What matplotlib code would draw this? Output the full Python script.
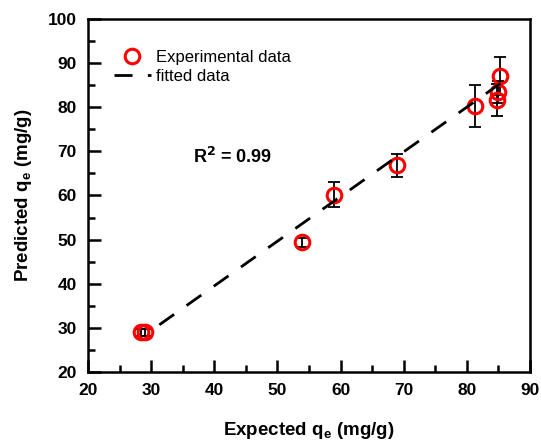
import matplotlib.pyplot as plt
from matplotlib.ticker import MultipleLocator

plt.rcParams['font.family'] = ['Liberation Sans', 'DejaVu Sans']

# expected vs predicted q_e with error bars
q_exp = [28.4, 29.0, 53.9, 59.0, 69.0, 81.3, 84.7, 85.0, 85.3]
q_pred = [29.0, 29.0, 49.4, 60.2, 66.9, 80.3, 81.7, 83.5, 87.0]
q_err = [0.8, 0.8, 1.0, 2.9, 2.6, 4.7, 3.6, 2.5, 4.3]

# linear fit endpoints
fit_x = [31.3, 85.3]
fit_y = [30.7, 85.4]

r2_text = 'R$^\\mathbf{2}$ = 0.99'

fig = plt.figure(figsize=(5.41, 4.41), dpi=100)
ax = fig.add_axes([88/541, 1 - 372/441, (530-88)/541, (372-19)/441])

ax.errorbar(q_exp, q_pred, yerr=q_err, fmt='none', ecolor='black',
            elinewidth=1.3, capsize=4, capthick=1.3, zorder=2)
ax.plot(q_exp, q_pred, 'o', markerfacecolor='none', markeredgecolor='#ff0000',
        markeredgewidth=2.2, markersize=10.5, label='Experimental data', zorder=3)
ax.plot(fit_x, fit_y, '--', color='black', linewidth=2,
        dashes=(6.5, 5.5), label='fitted data', zorder=4)

ax.text(36.6, 68.8, r2_text, fontsize=13, fontweight='bold', va='center')

ax.set_xlim(20, 90)
ax.set_ylim(20, 100)
ax.xaxis.set_major_locator(MultipleLocator(10))
ax.xaxis.set_minor_locator(MultipleLocator(5))
ax.yaxis.set_major_locator(MultipleLocator(10))
ax.yaxis.set_minor_locator(MultipleLocator(5))
ax.tick_params(which='both', direction='in', width=1.8, top=False, right=False,
               labelsize=12.5, pad=8)
ax.tick_params(which='major', length=9)
ax.tick_params(which='minor', length=5)
for lab in ax.get_xticklabels() + ax.get_yticklabels():
    lab.set_fontweight('bold')
for sp in ax.spines.values():
    sp.set_linewidth(1.8)

ax.set_xlabel('Expected q$_\\mathregular{e}$ (mg/g)', fontsize=13.5,
              fontweight='bold', labelpad=16)
ax.set_ylabel('Predicted q$_\\mathregular{e}$ (mg/g)', fontsize=13.5,
              fontweight='bold', labelpad=10)

ax.legend(loc='upper left', frameon=False, fontsize=12, handlelength=2.2,
          handletextpad=0.3, borderaxespad=0.5, labelspacing=0.25,
          bbox_to_anchor=(0.025, 0.955))

fig.savefig('out.png', dpi=100)
